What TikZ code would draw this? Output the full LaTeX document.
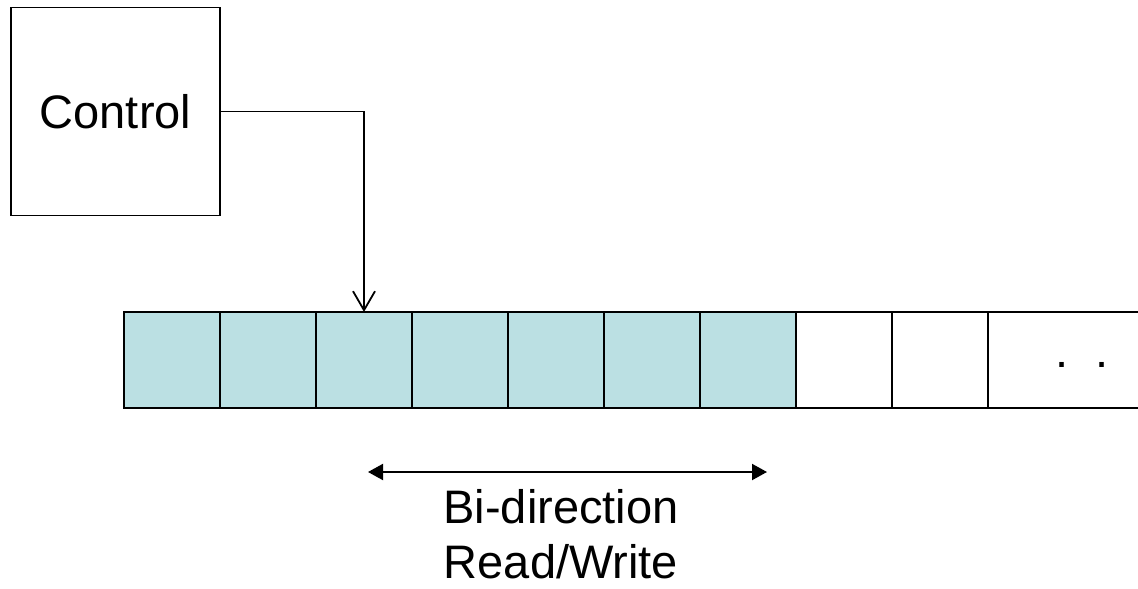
\documentclass[tikz,border=0pt]{standalone}
\usepackage{fontspec}
\setmainfont{Liberation Sans}
\usetikzlibrary{arrows.meta}
\definecolor{cellfill}{HTML}{BBE0E3}
\begin{document}
\begin{tikzpicture}[x=1pt,y=-1pt,
  cell/.style={draw, line width=2.2pt, minimum width=96pt, minimum height=96pt, inner sep=0pt, outer sep=0pt, anchor=north west},
  shaded/.style={cell, fill=cellfill},
  lbl/.style={font=\fontsize{47}{55}\selectfont},
  ctrlbox/.style={draw, line width=1.8pt, minimum width=209pt, minimum height=208pt, inner sep=0pt, outer sep=0pt, lbl},
  conn/.style={line width=1.8pt, -{Straight Barb[length=19pt,width=22pt]}},
  bidir/.style={line width=2pt, {Triangle[length=15pt,width=16pt]}-{Triangle[length=15pt,width=16pt]}}]
\useasboundingbox (0,0) rectangle (1138,589);
\node[ctrlbox] (ctrl) at (115.5,111.5) {Control};
\node[shaded] (c1) at (124,312) {};
\node[shaded] (c2) at (220,312) {};
\node[shaded] (c3) at (316,312) {};
\node[shaded] (c4) at (412,312) {};
\node[shaded] (c5) at (508,312) {};
\node[shaded] (c6) at (604,312) {};
\node[shaded] (c7) at (700,312) {};
\node[cell] (c8) at (796,312) {};
\node[cell] (c9) at (892,312) {};
\node[cell, minimum width=220pt] (c10) at (988,312) {};
\node[lbl, anchor=base west, inner sep=0pt] (dots) at (1055.5,367) {.\hspace{27pt}.};
\draw[conn] (ctrl.east) -| (c3.north);
\coordinate (bl) at (368,472);
\coordinate (br) at (767,472);
\draw[bidir] (bl) -- (br);
\node[lbl, align=center, anchor=base, inner sep=0pt, text depth=0pt] (rw) at (561,578.5) {Bi-direction\\Read/Write};
\end{tikzpicture}
\end{document}
